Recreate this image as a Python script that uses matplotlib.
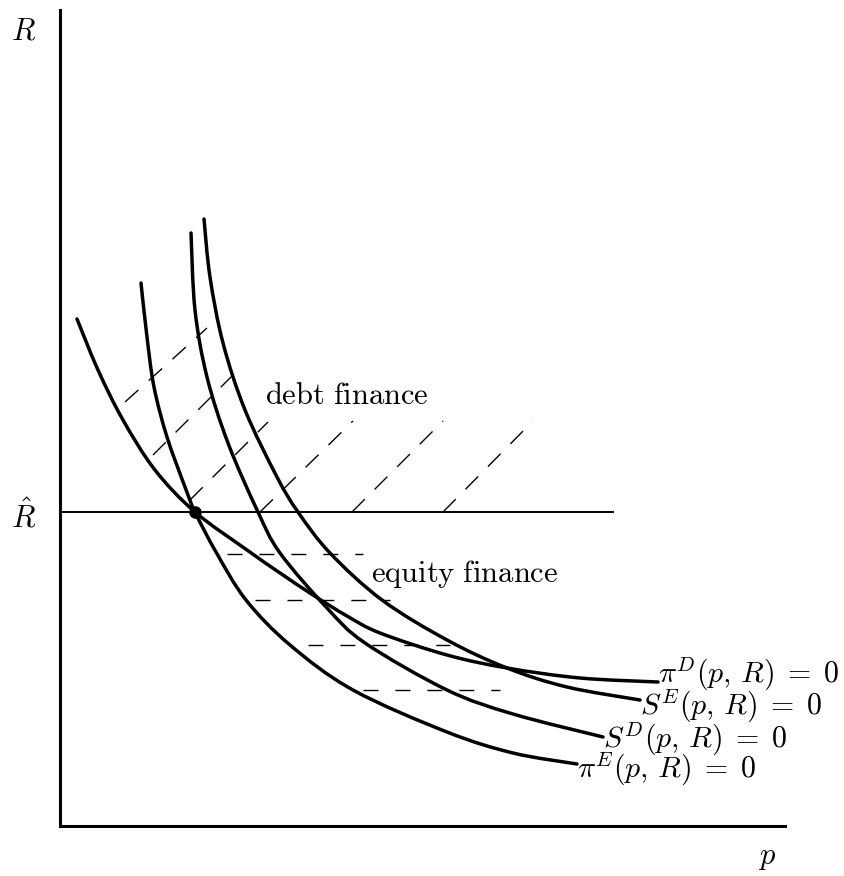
import numpy as np
import matplotlib
matplotlib.use("Agg")
import matplotlib.pyplot as plt
from matplotlib.path import Path
from matplotlib.patches import PathPatch

plt.rcParams["mathtext.fontset"] = "cm"

# curves, (p, R) pairs
pi_D_p = [0.17, 0.38, 0.63, 0.95, 1.35, 1.87, 2.20, 2.53, 2.87, 3.20, 3.87, 4.47, 5.20, 5.98]
pi_D_R = [5.07, 4.56, 4.06, 3.56, 3.14, 2.76, 2.53, 2.31, 2.10, 1.93, 1.71, 1.58, 1.48, 1.44]

pi_E_p = [0.81, 0.87, 0.94, 1.07, 1.25, 1.35, 1.56, 1.86, 2.30, 2.93, 3.87, 4.53, 5.17]
pi_E_R = [5.43, 4.89, 4.39, 3.89, 3.39, 3.14, 2.74, 2.26, 1.81, 1.36, 0.94, 0.73, 0.62]

S_D_p = [1.31, 1.35, 1.47, 1.68, 1.98, 2.20, 2.67, 3.05, 3.87, 4.53, 5.43]
S_D_R = [5.93, 5.16, 4.49, 3.83, 3.14, 2.73, 2.18, 1.83, 1.36, 1.12, 0.89]

S_E_p = [1.44, 1.50, 1.63, 1.85, 2.17, 2.38, 2.70, 3.22, 3.87, 4.47, 5.07, 5.80]
S_E_R = [6.07, 5.49, 4.83, 4.16, 3.49, 3.14, 2.73, 2.26, 1.86, 1.58, 1.39, 1.26]

labels = [r"$\pi^D(p,\,R)\;=\;0$", r"$S^E(p,\,R)\;=\;0$",
          r"$S^D(p,\,R)\;=\;0$", r"$\pi^E(p,\,R)\;=\;0$"]
label_drop = [0.0, 0.14, 0.10, 0.13]

R_hat = 3.14
R_hat_end = 5.53
p_star = 1.35

# debt finance hatching (start -> end)
debt_p0 = [0.65, 0.93, 1.30, 2.00, 2.92, 3.83]
debt_R0 = [4.24, 3.71, 3.26, 3.14, 3.14, 3.14]
debt_p1 = [1.47, 1.72, 2.08, 2.93, 3.83, 4.73]
debt_R1 = [4.98, 4.50, 4.04, 4.05, 4.05, 4.05]

# equity finance hatching
eq_R = [2.72, 2.26, 1.81, 1.36]
eq_p0 = [1.67, 1.95, 2.48, 3.03]
eq_p1 = [3.03, 3.30, 3.90, 4.40]


def smooth_path(px, ry):
    # bezier through the read points (catmull-rom tangents)
    pts = np.column_stack([px, ry])
    n = len(pts)
    verts = [pts[0]]
    codes = [Path.MOVETO]
    for i in range(n - 1):
        p0 = pts[max(i - 1, 0)]
        p1 = pts[i]
        p2 = pts[i + 1]
        p3 = pts[min(i + 2, n - 1)]
        verts += [p1 + (p2 - p0) / 6, p2 - (p3 - p1) / 6, p2]
        codes += [Path.CURVE4] * 3
    return Path(verts, codes)


fig = plt.figure(figsize=(8.44, 8.76), dpi=100)
ax = fig.add_axes([60 / 844, 50 / 876, 725 / 844, 816 / 876])
ax.set_xlim(0, 7.25)
ax.set_ylim(0, 8.16)
for s in ["top", "right"]:
    ax.spines[s].set_visible(False)
ax.spines["left"].set_linewidth(2.2)
ax.spines["bottom"].set_linewidth(2.2)
ax.set_xticks([])
ax.set_yticks([])

curves = [(pi_D_p, pi_D_R), (S_E_p, S_E_R), (S_D_p, S_D_R), (pi_E_p, pi_E_R)]
for (px, ry), lab, dr in zip(curves, labels, label_drop):
    ax.add_patch(PathPatch(smooth_path(px, ry), fill=False, edgecolor="black",
                           lw=2.5, capstyle="round"))
    ax.text(px[-1], ry[-1] - dr, lab, fontsize=21.5, ha="left", va="baseline")

ax.plot([0, R_hat_end], [R_hat, R_hat], color="black", lw=1.4)
ax.plot([p_star], [R_hat], "o", color="black", ms=8)

for a, b, c, d in zip(debt_p0, debt_R0, debt_p1, debt_R1):
    ax.plot([a, c], [b, d], color="black", lw=1.0, dashes=(13, 10))

for r, a, b in zip(eq_R, eq_p0, eq_p1):
    ax.plot([a, b], [r, r], color="black", lw=1.0, dashes=(10.8, 12.2))

ax.text(2.05, 4.22, r"$\mathrm{debt\ finance}$", fontsize=22, ha="left", va="baseline")
ax.text(3.11, 2.44, r"$\mathrm{equity\ finance}$", fontsize=22, ha="left", va="baseline")

ax.text(-0.36, 7.95, r"$R$", fontsize=22, ha="center", va="center", clip_on=False)
ax.text(-0.36, 3.10, r"$\hat{R}$", fontsize=22, ha="center", va="center", clip_on=False)
ax.text(7.07, -0.31, r"$p$", fontsize=22, ha="center", va="center", clip_on=False)

plt.savefig("out.png", dpi=100)
